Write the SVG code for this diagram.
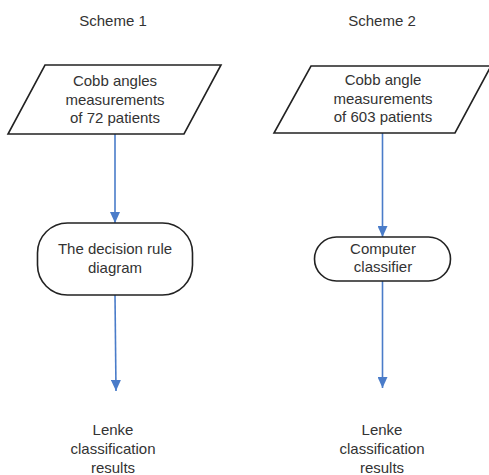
<svg xmlns="http://www.w3.org/2000/svg" width="489" height="475" viewBox="0 0 489 475">
<style>
text{font-family:"Liberation Sans",Arial,sans-serif;font-size:15px;fill:#333;text-anchor:middle}
.shape{fill:#fff;stroke:#222;stroke-width:1.6}
.conn{stroke:#4a7cc9;stroke-width:1.6;fill:none}
</style>
<defs>
<marker id="ah" markerWidth="11" markerHeight="10" refX="11" refY="5" orient="auto" markerUnits="userSpaceOnUse" viewBox="0 0 11 10">
<path d="M0,0 L11,5 L0,10 Z" fill="#4a7cc9"/>
</marker>
</defs>
<rect width="489" height="475" fill="#fff"/>
<g id="title1"><text x="113" y="26">Scheme 1</text></g>
<g id="title2"><text x="382" y="26">Scheme 2</text></g>
<g id="connectors">
<line class="conn" x1="115" y1="134" x2="115" y2="223" marker-end="url(#ah)"/>
<line class="conn" x1="115" y1="295" x2="116" y2="391" marker-end="url(#ah)"/>
<line class="conn" x1="382.5" y1="133" x2="382.5" y2="237" marker-end="url(#ah)"/>
<line class="conn" x1="382.5" y1="281" x2="382.5" y2="388" marker-end="url(#ah)"/>
</g>
<g id="input1">
<polygon class="shape" points="45,65 221,65 184,134 8,134"/>
<text x="115" y="86">Cobb angles</text>
<text x="115" y="104.5">measurements</text>
<text x="115" y="123">of 72 patients</text>
</g>
<g id="input2">
<polygon class="shape" points="311,66 491,66 455,133 274,133"/>
<text x="383" y="85">Cobb angle</text>
<text x="383" y="103.5">measurements</text>
<text x="383" y="122">of 603 patients</text>
</g>
<g id="process1">
<rect class="shape" x="37.5" y="223" width="155" height="72" rx="30" ry="30"/>
<text x="115" y="254">The decision rule</text>
<text x="115" y="272.5">diagram</text>
</g>
<g id="process2">
<rect class="shape" x="314.5" y="237" width="136" height="44" rx="22" ry="22"/>
<text x="383" y="254">Computer</text>
<text x="383" y="272">classifier</text>
</g>
<g id="output1">
<text x="113" y="435">Lenke</text>
<text x="113" y="454">classification</text>
<text x="113" y="472.5">results</text>
</g>
<g id="output2">
<text x="382" y="435">Lenke</text>
<text x="382" y="454">classification</text>
<text x="382" y="472.5">results</text>
</g>
</svg>
